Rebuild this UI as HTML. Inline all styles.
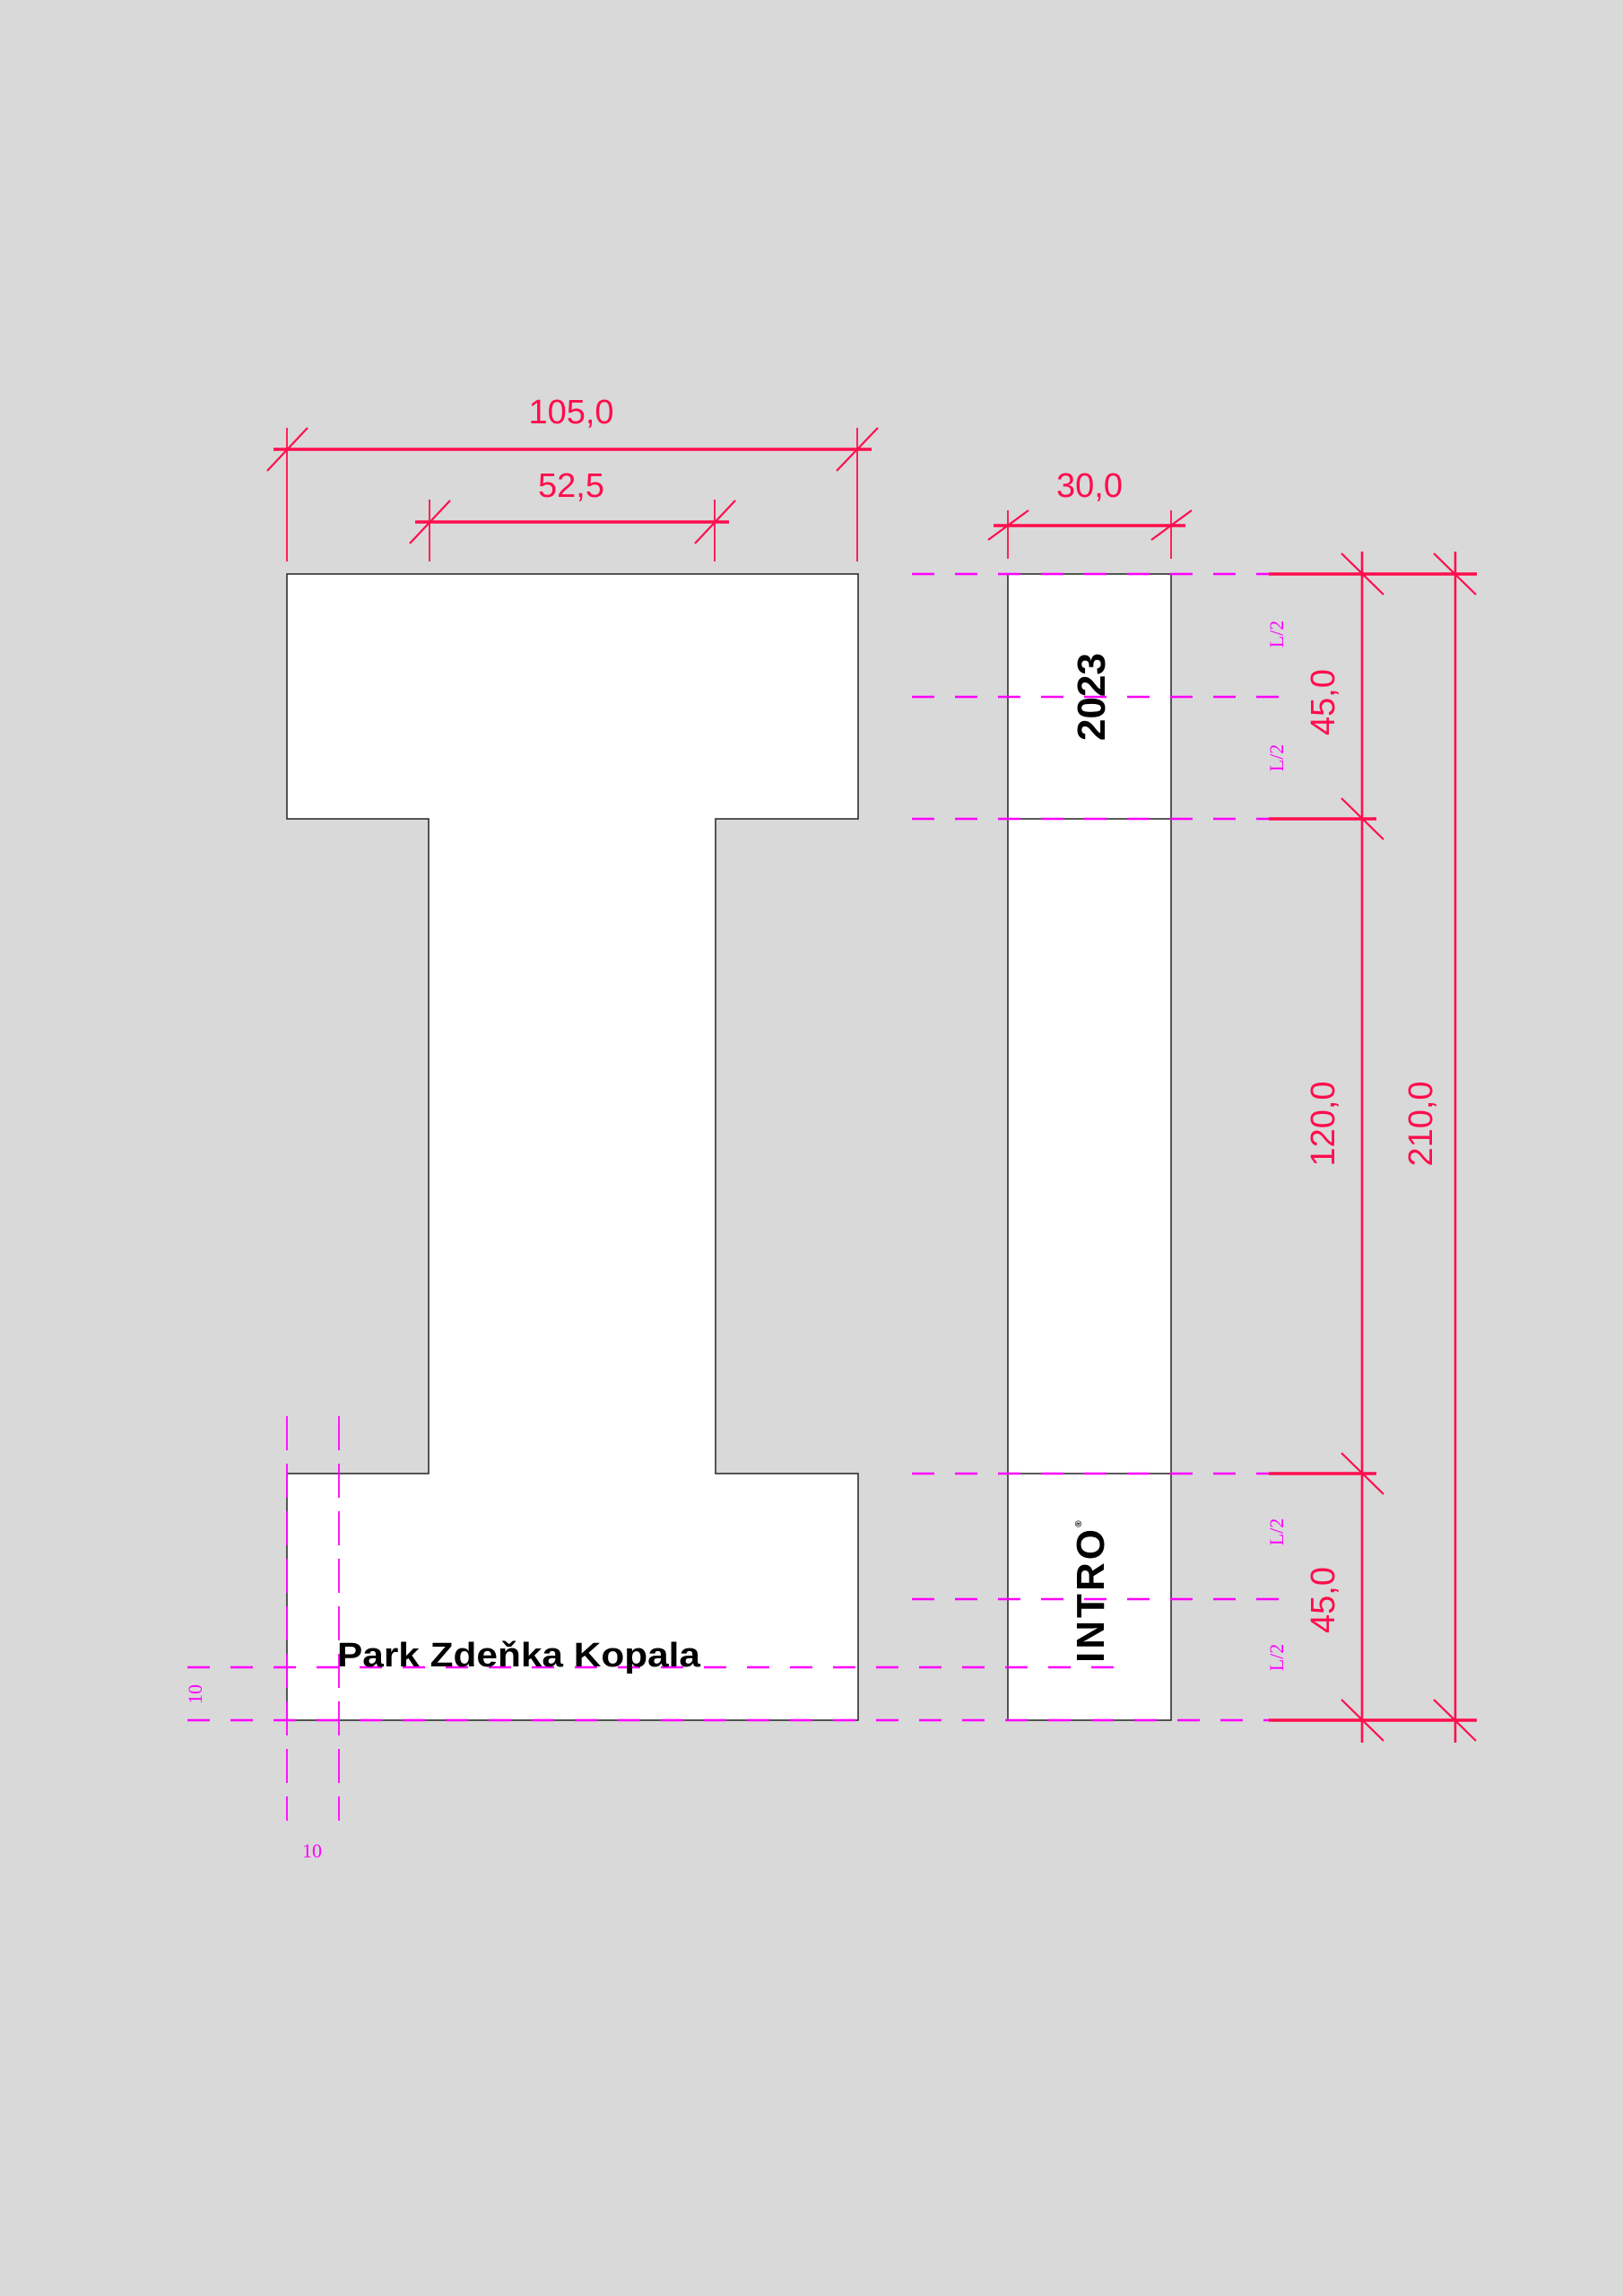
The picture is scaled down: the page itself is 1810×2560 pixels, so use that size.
<!DOCTYPE html>
<html><head><meta charset="utf-8"><style>html,body{margin:0;padding:0;background:#d9d9d9}svg{display:block}</style></head>
<body>
<svg width="1810" height="2560" viewBox="0 0 1810 2560" xmlns="http://www.w3.org/2000/svg">
<rect width="1810" height="2560" fill="#d9d9d9"/>
<path d="M320 640 H957 V913 H798 V1643 H957 V1918 H320 V1643 H478 V913 H320 Z" fill="#fff" stroke="#222" stroke-width="1.5"/>
<rect x="1124" y="640" width="182" height="1278" fill="#fff" stroke="#222" stroke-width="1.5"/>
<line x1="1124" y1="913" x2="1306" y2="913" stroke="#222" stroke-width="1.5"/>
<line x1="1124" y1="1643" x2="1306" y2="1643" stroke="#222" stroke-width="1.5"/>
<g stroke="#ff00ff" stroke-width="2.5" stroke-dasharray="25 23" fill="none">
<line x1="1017" y1="640" x2="1432" y2="640"/>
<line x1="1017" y1="777" x2="1432" y2="777"/>
<line x1="1017" y1="913" x2="1432" y2="913"/>
<line x1="1017" y1="1643" x2="1432" y2="1643"/>
<line x1="1017" y1="1783" x2="1432" y2="1783"/>
<line x1="209" y1="1859" x2="1252" y2="1859"/>
<line x1="209" y1="1918" x2="1432" y2="1918"/>
</g>
<g stroke="#ff00ff" stroke-width="1.8" stroke-dasharray="38 15" fill="none">
<line x1="320" y1="1579" x2="320" y2="2030"/>
<line x1="378" y1="1579" x2="378" y2="2030"/>
</g>
<g stroke="#ff0d4d" fill="none">
<g stroke-width="1.8">
<line x1="320" y1="477" x2="320" y2="626"/>
<line x1="956" y1="477" x2="956" y2="626"/>
<line x1="479" y1="557" x2="479" y2="626"/>
<line x1="797" y1="557" x2="797" y2="626"/>
<line x1="1124" y1="569" x2="1124" y2="623"/>
<line x1="1306" y1="569" x2="1306" y2="623"/>
</g>
<g stroke-width="2.6">
<line x1="1519" y1="615" x2="1519" y2="1943"/>
<line x1="1623" y1="615" x2="1623" y2="1943"/>
</g>
<g stroke-width="3.5">
<line x1="305" y1="501" x2="972" y2="501"/>
<line x1="463" y1="582" x2="813" y2="582"/>
<line x1="1108" y1="586" x2="1322" y2="586"/>
<line x1="1415" y1="640" x2="1647" y2="640"/>
<line x1="1415" y1="913" x2="1535" y2="913"/>
<line x1="1415" y1="1643" x2="1535" y2="1643"/>
<line x1="1415" y1="1918" x2="1647" y2="1918"/>
</g>
<g stroke-width="2.2">
<line x1="298" y1="525" x2="343" y2="477"/>
<line x1="933" y1="525" x2="979" y2="477"/>
<line x1="457" y1="606" x2="502" y2="558"/>
<line x1="775" y1="606" x2="820" y2="558"/>
<line x1="1102" y1="602" x2="1147" y2="569"/>
<line x1="1284" y1="602" x2="1329" y2="569"/>
<line x1="1496" y1="617" x2="1543" y2="663"/>
<line x1="1599" y1="617" x2="1646" y2="663"/>
<line x1="1496" y1="890" x2="1543" y2="936"/>
<line x1="1496" y1="1620" x2="1543" y2="1666"/>
<line x1="1496" y1="1895" x2="1543" y2="1941"/>
<line x1="1599" y1="1895" x2="1646" y2="1941"/>
</g>
</g>
<g fill="#ff0d4d" font-family="Liberation Sans, sans-serif" font-size="38" text-anchor="middle">
<text x="637" y="472">105,0</text>
<text x="637" y="554">52,5</text>
<text x="1215" y="554">30,0</text>
<text transform="translate(1488 783) rotate(-90)">45,0</text>
<text transform="translate(1488 1784) rotate(-90)">45,0</text>
<text transform="translate(1488 1253) rotate(-90)">120,0</text>
<text transform="translate(1597 1253) rotate(-90)">210,0</text>
</g>
<g fill="#ff00ff" font-family="Liberation Serif, serif" font-size="22" text-anchor="middle">
<text transform="translate(1431 707) rotate(-90)">L/2</text>
<text transform="translate(1431 845) rotate(-90)">L/2</text>
<text transform="translate(1431 1708) rotate(-90)">L/2</text>
<text transform="translate(1431 1848) rotate(-90)">L/2</text>
<text transform="translate(225 1889) rotate(-90)">10</text>
<text x="348" y="2071">10</text>
</g>
<g fill="#000" font-family="Liberation Sans, sans-serif" font-weight="bold" text-anchor="middle">
<text transform="translate(1232 777) rotate(-90)" font-size="44">2023</text>
<text transform="translate(1231 1778) rotate(-90)" font-size="44" letter-spacing="3">INTRO</text>
<text transform="translate(1206 1699) rotate(-90)" font-size="10">®</text>
<text x="376" y="1858" font-size="38" text-anchor="start" textLength="405" lengthAdjust="spacingAndGlyphs">Park Zdeňka Kopala</text>
</g>
</svg>
</body></html>
